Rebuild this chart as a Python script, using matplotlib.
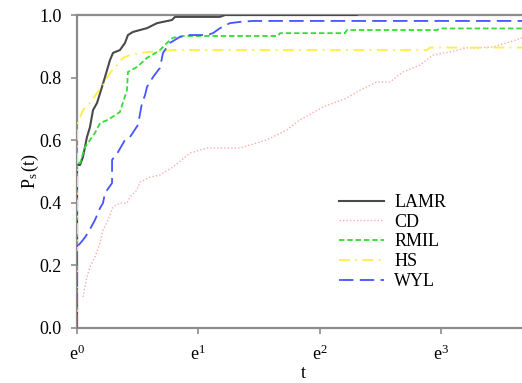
import numpy as np
import matplotlib
matplotlib.use('Agg')
import matplotlib.pyplot as plt

plt.rcParams['font.family'] = 'Liberation Serif'
plt.rcParams['mathtext.fontset'] = 'custom'
plt.rcParams['mathtext.rm'] = 'Liberation Serif'
plt.rcParams['mathtext.it'] = 'Liberation Serif:italic'

# x values are log(t), y values are P_s(t)
lamr_x = [0, 0, 0.025, 0.049, 0.082, 0.107, 0.132, 0.165, 0.206, 0.231, 0.272, 0.297,
          0.354, 0.396, 0.420, 0.462, 0.577, 0.660, 0.783, 0.808, 1.179, 1.220, 2.308]
lamr_y = [0, 0.521, 0.521, 0.546, 0.610, 0.642, 0.696, 0.719, 0.770, 0.802, 0.856, 0.879,
          0.888, 0.911, 0.936, 0.946, 0.958, 0.974, 0.984, 0.994, 0.994, 1.0, 1.0]

cd_x = [0.049, 0.082, 0.107, 0.148, 0.190, 0.214, 0.256, 0.297, 0.354, 0.412, 0.437, 0.495,
        0.519, 0.602, 0.684, 0.791, 0.932, 1.072, 1.344, 1.566, 1.731, 1.838, 2.028, 2.226,
        2.333, 2.473, 2.580, 2.688, 2.828, 2.935, 3.075, 3.215, 3.322, 3.430, 3.570, 3.669, 3.735]
cd_y = [0.099, 0.163, 0.195, 0.227, 0.272, 0.313, 0.345, 0.387, 0.399, 0.399, 0.419, 0.441,
        0.466, 0.482, 0.489, 0.514, 0.559, 0.575, 0.575, 0.601, 0.633, 0.665, 0.706, 0.735,
        0.760, 0.786, 0.786, 0.818, 0.840, 0.872, 0.882, 0.895, 0.895, 0.898, 0.914, 0.927, 0.933]

rmil_x = [0, 0, 0.025, 0.066, 0.148, 0.190, 0.256, 0.354, 0.412, 0.420, 0.495, 0.577, 0.618,
          0.684, 0.742, 0.791, 0.874, 1.657, 1.674, 2.209, 2.226, 2.968, 2.993, 3.73]
rmil_y = [0, 0.527, 0.527, 0.578, 0.623, 0.655, 0.665, 0.690, 0.760, 0.818, 0.834, 0.863, 0.872,
          0.888, 0.911, 0.927, 0.933, 0.933, 0.942, 0.942, 0.952, 0.952, 0.957, 0.957]

hs_x = [0, 0, 0.049, 0.107, 0.165, 0.214, 0.272, 0.330, 0.379, 0.437, 0.519, 0.602, 0.791,
        2.885, 2.910, 3.73]
hs_y = [0, 0.649, 0.696, 0.719, 0.751, 0.776, 0.815, 0.840, 0.863, 0.872, 0.879, 0.882, 0.888,
        0.888, 0.896, 0.896]

wyl_x = [0, 0, 0.049, 0.091, 0.148, 0.190, 0.214, 0.231, 0.289, 0.289, 0.338, 0.396, 0.437,
         0.503, 0.536, 0.561, 0.577, 0.627, 0.684, 0.709, 0.767, 0.849, 0.932, 1.072, 1.121,
         1.179, 1.261, 1.344, 1.451, 3.73]
wyl_y = [0, 0.259, 0.281, 0.304, 0.345, 0.383, 0.399, 0.431, 0.463, 0.537, 0.562, 0.601, 0.610,
         0.649, 0.719, 0.744, 0.770, 0.802, 0.831, 0.879, 0.911, 0.930, 0.936, 0.936, 0.942,
         0.958, 0.974, 0.978, 0.981, 0.981]

xticks = [0, 1, 2, 3]
xticklabels = [r'$\mathrm{e}^{0}$', r'$\mathrm{e}^{1}$', r'$\mathrm{e}^{2}$', r'$\mathrm{e}^{3}$']
yticks = [0.0, 0.2, 0.4, 0.6, 0.8, 1.0]

fig = plt.figure(figsize=(5.22, 3.83), dpi=100)
ax = fig.add_axes([77 / 522, 55 / 383, 453 / 522, 313 / 383])

ax.plot(lamr_x, lamr_y, color='#4a4a4a', lw=1.5, label='LAMR', zorder=3)
ax.plot(cd_x, cd_y, color='#ffaaaa', lw=1.0, ls=(0, (1, 1.5)), label='CD', zorder=3)
ax.plot(rmil_x, rmil_y, color='#33dd33', lw=1.3, ls=(0, (3, 1.6)), label='RMIL', zorder=3)
ax.plot(hs_x, hs_y, color='#ffee44', lw=1.3, ls=(0, (6, 3, 1, 3)), label='HS', zorder=3)
ax.plot(wyl_x, wyl_y, color='#4455ff', lw=1.3, ls=(0, (8, 3.5)), label='WYL', zorder=3)

ax.set_xlim(0, 3.735)
ax.set_ylim(0, 1.0)
ax.set_xticks(xticks)
ax.set_xticklabels(xticklabels)
ax.set_yticks(yticks)
ax.set_yticklabels(['%.1f' % v for v in yticks])
for s in ax.spines.values():
    s.set_color('#8c8c8c')
    s.set_linewidth(1.6)
ax.tick_params(colors='#8c8c8c', labelcolor='black', labelsize=13, length=4, width=1.2,
               direction='out')
ax.tick_params(axis='y', pad=7)
ax.tick_params(axis='x', pad=8)

ax.set_xlabel('t', fontsize=13, labelpad=1)
ax.set_ylabel(r'$\mathrm{P_s\,(t)}$', fontsize=13, labelpad=-1)

ax.legend(loc='upper left', bbox_to_anchor=(330 / 522, 1 - 185 / 383),
          bbox_transform=fig.transFigure, frameon=False, fontsize=13,
          handlelength=2.5, handletextpad=0.55, labelspacing=0.15, borderpad=0)

fig.savefig('out.png', dpi=100)
